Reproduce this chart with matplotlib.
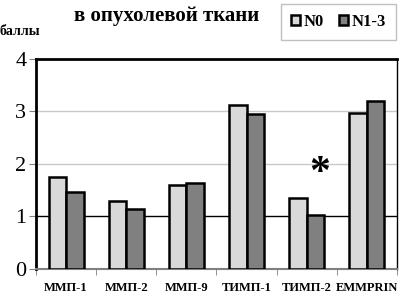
import numpy as np
import matplotlib.pyplot as plt

# Markers and score values
categories = ["ММП-1", "ММП-2", "ММП-9", "ТИМП-1", "ТИМП-2", "EMMPRIN"]
n0_values = [1.76, 1.30, 1.59, 3.12, 1.35, 2.97]
n13_values = [1.46, 1.14, 1.64, 2.96, 1.03, 3.19]
series_names = ["N0", "N1-3"]

plt.rcParams['font.family'] = ['Liberation Serif', 'DejaVu Serif']

fig = plt.figure(figsize=(4.06, 2.98), dpi=100)
ax = fig.add_axes([0.0887, 0.0973, 0.889, 0.705])

x = np.arange(len(categories))
w = 0.29
ax.bar(x - w / 2, n0_values, w, color='#d9d9d9', edgecolor='black', linewidth=1.8,
       label=series_names[0], zorder=3)
ax.bar(x + w / 2, n13_values, w, color='#808080', edgecolor='black', linewidth=1.8,
       label=series_names[1], zorder=3)

ax.set_xlim(-0.5, len(categories) - 0.5)
ax.set_ylim(0, 4)
ax.set_yticks([0, 1, 2, 3, 4])
ax.tick_params(axis='y', labelsize=16, length=5, color='#808080', pad=2)

# reference line at 1 and light grid at 2, 3
ax.axhline(1, color='black', linewidth=1.0, zorder=2)
for yv in [2, 3]:
    ax.axhline(yv, color='#c8c8c8', linewidth=1.0, zorder=1)

ax.set_xticks(x)
ax.set_xticklabels(categories, fontsize=9, fontweight='bold')
ax.set_xticks(np.arange(len(categories) + 1) - 0.5, minor=True)
ax.tick_params(axis='x', which='major', length=0, pad=9)
ax.tick_params(axis='x', which='minor', length=4, color='#808080', direction='out')

ax.spines['left'].set_linewidth(2.0)
ax.spines['top'].set_linewidth(2.0)
ax.spines['right'].set_linewidth(1.0)
ax.spines['bottom'].set_linewidth(1.5)
ax.spines['bottom'].set_color('#808080')

ax.text(4.22, 1.8, "*", fontsize=30, fontweight='bold', ha='center', va='center')

fig.text(0.41, 0.945, "в опухолевой ткани", fontsize=15, fontweight='bold',
         ha='center', va='center')
fig.text(0.0, 0.895, "баллы", fontsize=10, fontweight='bold', ha='left', va='center')

leg = fig.legend(loc='upper right', bbox_to_anchor=(0.995, 1.015), ncol=2,
                 prop={'weight': 'bold', 'size': 12}, frameon=True, fancybox=False,
                 edgecolor='#b0b0b0', handlelength=0.55, handleheight=0.55,
                 handletextpad=0.2, columnspacing=0.9, borderpad=0.6)
leg.get_frame().set_linewidth(1.0)

fig.savefig("out.png", dpi=100)
